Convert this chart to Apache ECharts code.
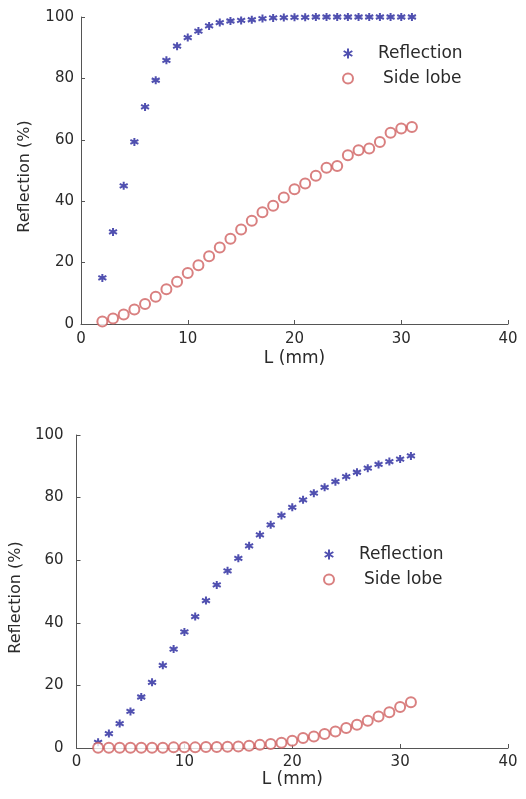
<!DOCTYPE html>
<html>
<head>
<meta charset="utf-8">
<script src="https://cdn.jsdelivr.net/npm/echarts@6/dist/echarts.min.js"></script>
<style>
  html, body { margin: 0; padding: 0; background: #fff; }
  #chart { width: 526px; height: 799px; }
</style>
</head>
<body>
<div id="chart"></div>
<script>
// 光栅长度 L (mm)
const lengths = [2, 3, 4, 5, 6, 7, 8, 9, 10, 11, 12, 13, 14, 15, 16, 17, 18, 19, 20, 21, 22, 23, 24, 25, 26, 27, 28, 29, 30, 31]

// 上图
const reflectionTop = [15, 30, 45, 59.3, 70.7, 79.4, 85.9, 90.5, 93.3, 95.4, 97.1, 98.2, 98.7, 98.9, 99.1, 99.5, 99.7, 99.8, 99.9, 99.9, 100, 100, 100, 100, 100, 100, 100, 100, 100, 100]
const sideLobeTop = [0.8, 1.8, 3.1, 4.7, 6.5, 8.9, 11.3, 13.8, 16.6, 19.1, 22.1, 24.9, 27.8, 30.8, 33.6, 36.4, 38.5, 41.2, 43.9, 45.8, 48.3, 50.9, 51.5, 55, 56.6, 57.2, 59.3, 62.3, 63.7, 64.2]

// 下图
const reflectionBottom = [1.8, 4.6, 7.8, 11.7, 16.3, 21, 26.4, 31.6, 37.1, 42, 47.1, 52.1, 56.6, 60.6, 64.6, 68.1, 71.3, 74.3, 76.9, 79.3, 81.4, 83.3, 85.1, 86.7, 88.1, 89.4, 90.6, 91.5, 92.3, 93.3]
const sideLobeBottom = [0.1, 0.1, 0.1, 0.1, 0.1, 0.1, 0.1, 0.2, 0.2, 0.2, 0.3, 0.3, 0.4, 0.5, 0.7, 1, 1.3, 1.7, 2.3, 3.2, 3.7, 4.5, 5.3, 6.4, 7.4, 8.7, 10.1, 11.4, 13.1, 14.6]

const xTicks = [0, 10, 20, 30, 40]
const yTicks = [0, 20, 40, 60, 80, 100]

const FONT = "'DejaVu Sans', sans-serif"
const STAR = 'path://M5,0L5,10M0.67,2.5L9.33,7.5M0.67,7.5L9.33,2.5'
const BLUE = '#24249c'
const RED = '#d06060'
const INK = '#2a2a2a'

const pairs = (xs, ys) => xs.map((x, i) => [x, ys[i]])

function xAxisOf(gridIndex, margin, nameGap) {
  return {
    gridIndex,
    type: 'value',
    min: xTicks[0],
    max: xTicks[xTicks.length - 1],
    interval: 10,
    name: 'L (mm)',
    nameLocation: 'middle',
    nameGap,
    nameTextStyle: { fontFamily: FONT, fontSize: 17, color: INK },
    axisLine: { lineStyle: { color: '#555', width: 1 } },
    axisTick: { inside: true, length: 4, lineStyle: { color: '#555' } },
    axisLabel: { fontFamily: FONT, fontSize: 15, color: INK, margin },
    splitLine: { show: false }
  }
}

function yAxisOf(gridIndex, margin, nameGap) {
  return {
    gridIndex,
    type: 'value',
    min: yTicks[0],
    max: yTicks[yTicks.length - 1],
    interval: 20,
    name: 'Reflection (%)',
    nameLocation: 'middle',
    nameGap,
    nameTextStyle: { fontFamily: FONT, fontSize: 16, color: INK, padding: [0, 12, 0, 0] },
    axisLine: { show: true, lineStyle: { color: '#555', width: 1 } },
    axisTick: { show: true, inside: true, length: 4, lineStyle: { color: '#555' } },
    axisLabel: { fontFamily: FONT, fontSize: 15, color: INK, margin },
    splitLine: { show: false }
  }
}

function starSeries(name, idx, ys) {
  return {
    name,
    type: 'scatter',
    xAxisIndex: idx,
    yAxisIndex: idx,
    symbol: STAR,
    symbolSize: 8,
    itemStyle: { color: BLUE, borderColor: BLUE, borderWidth: 2 },
    data: pairs(lengths, ys)
  }
}

function circleSeries(name, idx, ys) {
  return {
    name,
    type: 'scatter',
    xAxisIndex: idx,
    yAxisIndex: idx,
    symbol: 'emptyCircle',
    symbolSize: 10,
    itemStyle: { color: RED, borderColor: RED, borderWidth: 1 },
    data: pairs(lengths, ys)
  }
}

function legendOf(left, top) {
  return {
    orient: 'vertical',
    left,
    top,
    itemWidth: 10,
    itemHeight: 10,
    itemGap: 8,
    textStyle: { fontFamily: FONT, fontSize: 17, color: INK, lineHeight: 17 },
    data: [
      { name: 'Reflection', textStyle: { padding: [0, 0, 0, 20] } },
      { name: 'Side lobe', textStyle: { padding: [0, 0, 0, 25] } }
    ]
  }
}

const chart = echarts.init(document.getElementById('chart'))
chart.setOption({
  animation: false,
  backgroundColor: '#fff',
  grid: [
    { left: 81, top: 17, width: 427, height: 307 },
    { left: 76, top: 435, width: 432, height: 313 }
  ],
  xAxis: [xAxisOf(0, 8, 26), xAxisOf(1, 7, 22)],
  yAxis: [yAxisOf(0, 7, 48), yAxisOf(1, 13, 50)],
  legend: [legendOf(337, 40), legendOf(318, 541)],
  series: [
    starSeries('Reflection', 0, reflectionTop),
    circleSeries('Side lobe', 0, sideLobeTop),
    starSeries('Reflection', 1, reflectionBottom),
    circleSeries('Side lobe', 1, sideLobeBottom)
  ]
})
</script>
</body>
</html>
